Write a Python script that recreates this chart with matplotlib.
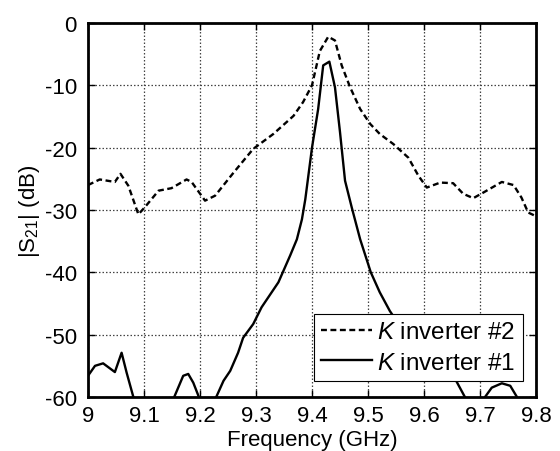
import matplotlib
matplotlib.use("Agg")
import matplotlib.pyplot as plt
import numpy as np

plt.rcParams['font.family'] = ['Liberation Sans', 'DejaVu Sans']
plt.rcParams['mathtext.fontset'] = 'custom'
plt.rcParams['mathtext.rm'] = 'Liberation Sans'
plt.rcParams['mathtext.it'] = 'Liberation Sans:italic'
plt.rcParams['axes.unicode_minus'] = False

# K inverter #2 (dashed)
f2 = [9.0, 9.021, 9.048, 9.058, 9.072, 9.09, 9.102, 9.126, 9.149, 9.176, 9.185,
      9.209, 9.227, 9.26, 9.295, 9.331, 9.367, 9.384, 9.40, 9.414, 9.429, 9.441,
      9.453, 9.468, 9.486, 9.504, 9.521, 9.545, 9.572, 9.59, 9.605, 9.629, 9.652,
      9.67, 9.688, 9.706, 9.739, 9.76, 9.774, 9.786, 9.8]
s2 = [-26.0, -25.1, -25.5, -24.2, -26.1, -30.7, -29.5, -26.9, -26.5, -25.1, -25.5,
      -28.5, -27.7, -24.0, -20.2, -17.8, -14.9, -12.7, -10.0, -4.5, -2.2, -2.8,
      -6.8, -10.3, -13.8, -16.2, -17.8, -19.4, -21.6, -24.5, -26.4, -25.6, -25.7,
      -27.4, -28.1, -27.2, -25.5, -26.0, -28.0, -30.4, -31.0]

# K inverter #1 (solid)
f1 = [9.0, 9.0125, 9.027, 9.048, 9.06, 9.069, 9.081, 9.10, 9.14, 9.154, 9.17, 9.179,
      9.188, 9.198, 9.21, 9.229, 9.242, 9.254, 9.268, 9.277, 9.295, 9.31, 9.34,
      9.361, 9.373, 9.382, 9.388, 9.40, 9.411, 9.42, 9.431, 9.441, 9.45, 9.459,
      9.471, 9.486, 9.505, 9.521, 9.539, 9.56, 9.60, 9.63, 9.658, 9.673, 9.69,
      9.709, 9.721, 9.739, 9.754, 9.766, 9.78, 9.8]
s1 = [-56.6, -55.0, -54.6, -56.0, -52.9, -56.1, -60.0, -66, -66, -60.0, -56.6, -56.3,
      -57.7, -60.0, -66, -60.0, -57.4, -55.8, -52.9, -50.5, -48.3, -45.6, -41.6,
      -37.3, -34.7, -31.5, -28.3, -20.0, -13.8, -6.8, -6.2, -10.3, -17.5, -25.3,
      -29.6, -34.7, -40.0, -43.2, -46.2, -49.0, -53.0, -55.2, -57.5, -60.0, -66,
      -60.0, -58.5, -57.8, -58.2, -60.0, -66, -66]

xticks = [9.0, 9.1, 9.2, 9.3, 9.4, 9.5, 9.6, 9.7, 9.8]
xticklabels = ['9', '9.1', '9.2', '9.3', '9.4', '9.5', '9.6', '9.7', '9.8']
yticks = [-60, -50, -40, -30, -20, -10, 0]

FS = 16

fig = plt.figure(figsize=(5.6, 4.52), dpi=100)
ax = fig.add_axes([88/560, 1-398/452, 448/560, 374/452])

ax.plot(f2, s2, color='black', lw=1.7, linestyle=(0, (2.5, 1.5)), label=r'$\it{K}$ inverter #2')
ax.plot(f1, s1, color='black', lw=1.7, label=r'$\it{K}$ inverter #1')

ax.set_xlim(9.0, 9.8)
ax.set_ylim(-60, 0)
ax.set_xticks(xticks)
ax.set_xticklabels(xticklabels)
ax.set_yticks(yticks)
ax.grid(True, color='#444444', linestyle=(0, (1.2, 1.6)), lw=0.9)
ax.tick_params(direction='in', top=True, right=True, length=5, width=1,
               labelsize=FS)
ax.tick_params(axis='x', pad=6)
ax.tick_params(axis='y', pad=8)
for sp in ax.spines.values():
    sp.set_linewidth(2)

ax.set_xlabel('Frequency (GHz)', fontsize=FS, labelpad=2)
ax.set_ylabel(r'|S$_{21}$| (dB)', fontsize=FS, labelpad=2)

leg = ax.legend(loc='lower right', bbox_to_anchor=(523/560, 1-382/452),
                bbox_transform=fig.transFigure, fontsize=17.5, frameon=True,
                fancybox=False, edgecolor='black', framealpha=1,
                handlelength=2.1, handletextpad=0.2, borderpad=0.3,
                labelspacing=0.35, borderaxespad=0)
leg.get_frame().set_linewidth(0.8)

fig.savefig('out.png', dpi=100)
